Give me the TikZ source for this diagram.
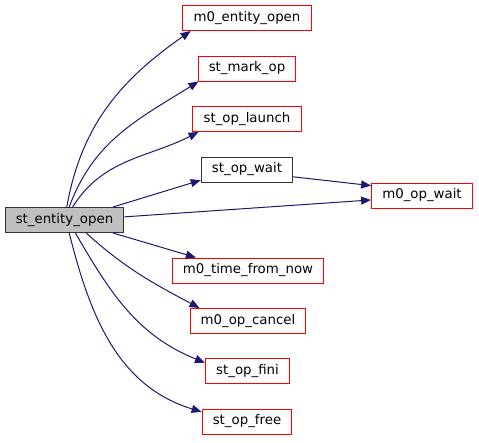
\documentclass[tikz,border=0pt]{standalone}
\usepackage{fontspec}
\setmainfont{DejaVu Sans}
\usetikzlibrary{arrows.meta}
\definecolor{edgeblue}{HTML}{191970}

\begin{document}
\begin{tikzpicture}[
  x=0.75pt,y=0.75pt,
  fn/.style={draw,line width=.75pt,minimum height=18.75pt,inner xsep=8pt,inner ysep=0pt,font=\fontsize{10}{12}\selectfont},
  ext/.style={fn,draw=red},
  call/.style={line width=.75pt,draw=edgeblue,-{Triangle[length=7.5pt,width=6pt]}}
]
  \useasboundingbox (0,0) rectangle (479,-443);

  \node[fn,fill=black!25,draw=black!80] (se) at (64.5,-220) {st\_entity\_open};
  \node[ext] (m0eo)   at (247,-18)    {m0\_entity\_open};
  \node[ext] (mark)   at (247,-68.5)  {st\_mark\_op};
  \node[ext] (launch) at (247,-119)   {st\_op\_launch};
  \node[fn,draw=black!80] (wait) at (247,-169.5) {st\_op\_wait};
  \node[ext] (m0wait) at (422,-195.5) {m0\_op\_wait};
  \node[ext] (tfn)    at (248,-270.5) {m0\_time\_from\_now};
  \node[ext] (cancel) at (248,-321)   {m0\_op\_cancel};
  \node[ext] (fini)   at (247.5,-371) {st\_op\_fini};
  \node[ext] (free)   at (247,-421.5) {st\_op\_free};

  \draw[call] (se.80) to[out=80,in=-145] (m0eo.-167);
  \draw[call] (se.70) to[out=70,in=-148] (mark.-165);
  \draw[call] (se.58) to[out=58,in=-153] (launch.-165);
  \draw[call] (se.15) -- (wait.-167);
  \draw[call] (wait.-9) -- (m0wait.169);
  \draw[call] (se.3) -- (m0wait.-175);
  \draw[call] (se.-15) -- (tfn.166);
  \draw[call] (se.-31) to[out=-42,in=152] (cancel.165);
  \draw[call] (se.-50) to[out=-60,in=158] (fini.169);
  \draw[call] (se.-70) to[out=-76,in=163] (free.168);
\end{tikzpicture}
\end{document}
